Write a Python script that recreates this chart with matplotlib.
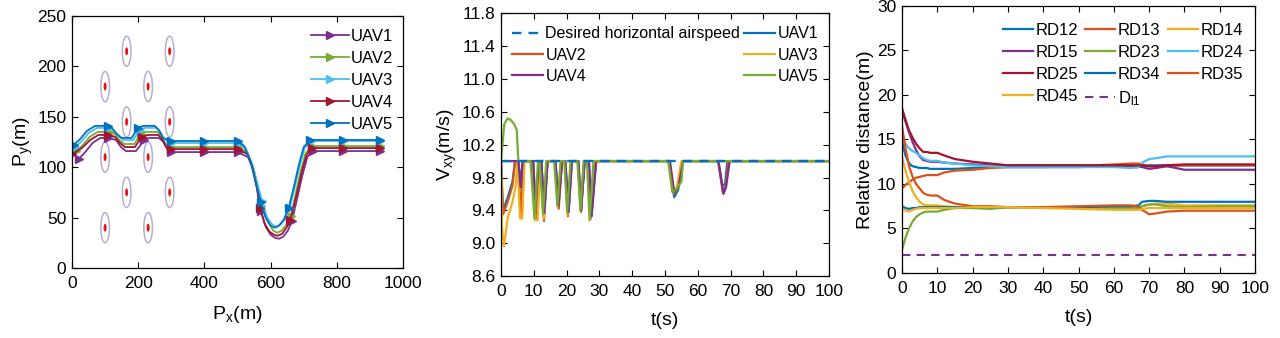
import numpy as np
import matplotlib
matplotlib.use("Agg")
import matplotlib.pyplot as plt
from matplotlib.patches import Ellipse

plt.rcParams['font.family'] = ['Liberation Sans', 'DejaVu Sans']
plt.rcParams['mathtext.fontset'] = 'custom'
plt.rcParams['mathtext.rm'] = 'Liberation Sans'
plt.rcParams['mathtext.it'] = 'Liberation Sans:italic'

# matlab default colours
C_BLUE = '#0072BD'
C_ORANGE = '#D95319'
C_YELLOW = '#EDB120'
C_PURPLE = '#7E2F8E'
C_GREEN = '#77AC30'
C_LBLUE = '#4DBEEE'
C_RED = '#A2142F'

# ---------------- panel 1: trajectories ----------------
obst_x = [100, 165, 230, 295, 165, 295, 100, 230, 165, 295, 100, 230]
obst_y = [180, 215, 180, 215, 145, 145, 110, 110, 75, 75, 40, 40]

px1 = [20, 40, 62, 85, 110, 133, 148, 163, 193, 205, 217, 232, 263, 276, 289, 300, 400, 500,
       532, 548, 560, 570, 585, 600, 613, 625, 638, 652, 665, 681, 696, 711, 727, 820, 930]
py1 = [108, 115, 124, 129, 129, 127, 120, 116, 116, 121, 127, 129, 129, 125, 117, 115, 115, 115,
       110, 97, 78, 57, 41, 33, 30, 29, 31, 37, 47, 70, 92, 110, 116, 116, 116]
mk1 = [20, 110, 217, 300, 400, 500, 570, 665, 727, 820, 930]

px2 = [12, 33, 53, 78, 112, 128, 143, 158, 188, 198, 208, 223, 258, 270, 283, 300, 400, 500,
       528, 548, 563, 572, 593, 608, 620, 633, 648, 662, 676, 691, 706, 725, 820, 930]
py2 = [116, 122, 130, 135, 135, 133, 127, 123, 123, 128, 133, 135, 135, 131, 123, 120, 120, 120,
       115, 99, 79, 62, 45, 37, 35, 37, 43, 52, 74, 96, 114, 121, 121, 121]
mk2 = [12, 112, 208, 300, 400, 500, 572, 662, 725, 820, 930]

px3 = [10, 30, 50, 75, 110, 125, 140, 155, 185, 195, 205, 220, 255, 267, 280, 300, 400, 500,
       525, 545, 560, 575, 590, 605, 617, 630, 645, 658, 673, 688, 703, 722, 820, 930]
py3 = [120, 126, 134, 139, 139, 137, 131, 127, 127, 132, 137, 139, 139, 135, 127, 124, 124, 124,
       119, 103, 84, 66, 50, 43, 41, 43, 49, 60, 80, 101, 119, 126, 126, 126]
mk3 = [10, 110, 205, 300, 400, 500, 575, 658, 722, 820, 930]

px4 = [0, 30, 55, 80, 108, 130, 145, 160, 190, 200, 212, 228, 260, 272, 285, 300, 400, 500,
       530, 545, 558, 568, 582, 597, 610, 622, 635, 648, 660, 678, 693, 708, 725, 820, 930]
py4 = [113, 119, 127, 132, 132, 130, 124, 120, 120, 125, 130, 132, 132, 128, 120, 118, 118, 118,
       113, 100, 80, 60, 44, 36, 33, 32, 34, 40, 48, 72, 94, 112, 119, 119, 119]
mk4 = [0, 108, 212, 300, 400, 500, 568, 660, 725, 820, 930]

px5 = [5, 25, 45, 70, 108, 120, 135, 150, 180, 190, 200, 215, 250, 262, 275, 300, 400, 500,
       520, 540, 555, 570, 585, 600, 612, 625, 640, 655, 670, 685, 700, 720, 820, 930]
py5 = [122, 128, 136, 141, 141, 139, 133, 129, 129, 134, 139, 141, 141, 137, 129, 126, 126, 126,
       121, 105, 85, 65, 50, 42, 40, 42, 48, 60, 80, 102, 120, 127, 127, 127]
mk5 = [5, 108, 200, 300, 400, 500, 570, 655, 720, 820, 930]

# ---------------- panel 2: horizontal airspeed ----------------
v_des = 10.0
t_v1 = [0, 0.6, 2, 3.5, 4.3, 5.3, 6.0, 6.6, 9.8, 10.5, 11.6, 12.3, 13.2, 14.2, 16.6, 17.5, 18.6,
        19.6, 20.6, 21.6, 23.6, 24.4, 25.5, 26.8, 27.6, 29.0, 51.2, 52.8, 54.0, 55.3,
        66.2, 67.5, 68.3, 69.0, 100]
v1 = [10.0, 9.4, 9.55, 9.75, 10.0, 10.0, 9.7, 10.0, 10.0, 9.45, 10.0, 10.0, 9.38, 10.0, 10.0, 9.46, 10.0,
      10.0, 9.38, 10.0, 10.0, 9.4, 10.0, 10.0, 9.33, 10.0, 10.0, 9.56, 9.65, 10.0,
      10.0, 9.7, 9.72, 10.0, 10.0]
t_v2 = [0, 0.6, 2, 3.5, 4.3, 5.2, 6.0, 6.8, 9.5, 10.6, 11.6, 12.1, 13.1, 14.1, 16.5, 17.6, 18.6,
        19.5, 20.4, 21.4, 23.4, 24.4, 25.4, 26.5, 27.4, 28.6, 51.2, 52.7, 54.0, 55.3,
        66.2, 67.6, 68.5, 69.3, 100]
v2 = [10.0, 9.35, 9.5, 9.7, 10.0, 10.0, 9.32, 10.0, 10.0, 9.3, 10.0, 10.0, 9.27, 10.0, 10.0, 9.42, 10.0,
      10.0, 9.33, 10.0, 10.0, 9.38, 10.0, 10.0, 9.3, 10.0, 10.0, 9.6, 9.68, 10.0,
      10.0, 9.62, 9.7, 10.0, 10.0]
t_v3 = [0, 0.3, 0.9, 2, 3.5, 4.5, 5.0, 5.8, 6.5, 7.2, 9.6, 10.4, 11.2, 12.0, 13.0, 14.0, 16.5, 17.3,
        18.3, 19.5, 20.3, 21.3, 23.5, 24.3, 25.3, 26.5, 27.2, 28.5, 51.0, 52.2, 53.5, 55.0, 100]
v3 = [10.0, 9.2, 8.96, 9.3, 9.5, 9.7, 10.0, 9.3, 9.3, 10.0, 10.0, 9.28, 9.28, 10.0, 9.3, 10.0, 10.0, 9.45,
      10.0, 10.0, 9.35, 10.0, 10.0, 9.4, 10.0, 10.0, 9.3, 10.0, 10.0, 9.63, 9.66, 10.0, 10.0]
t_v4 = [0, 5.3, 6.0, 6.6, 9.8, 10.5, 11.6, 12.3, 13.2, 14.2, 16.6, 17.5, 18.6, 19.6, 20.6, 21.6,
        23.6, 24.4, 25.5, 26.8, 27.6, 29.0, 51.5, 52.8, 54.2, 55.5, 66.3, 67.8, 68.6, 69.7, 100]
v4 = [10.0, 10.0, 9.68, 10.0, 10.0, 9.45, 10.0, 10.0, 9.37, 10.0, 10.0, 9.46, 10.0, 10.0, 9.38, 10.0,
      10.0, 9.4, 10.0, 10.0, 9.33, 10.0, 10.0, 9.62, 9.7, 10.0, 10.0, 9.6, 9.68, 10.0, 10.0]
t_v5 = [0, 1, 2, 3, 4, 4.8, 5.3, 9.0, 10.2, 11.3, 11.8, 12.8, 13.8, 16.2, 17.2, 18.2, 19.3, 20.2,
        21.2, 23.3, 24.2, 25.2, 26.2, 27.0, 28.2, 51.0, 52.3, 53.5, 55.0, 55.5, 100]
v5 = [10.0, 10.45, 10.52, 10.5, 10.45, 10.38, 10.0, 10.0, 9.3, 10.0, 10.0, 9.35, 10.0, 10.0, 9.45, 10.0,
      10.0, 9.37, 10.0, 10.0, 9.4, 10.0, 10.0, 9.28, 10.0, 10.0, 9.62, 9.66, 9.75, 10.0, 10.0]

# ---------------- panel 3: relative distances ----------------
t_rd = [0, 1, 2, 3, 4, 5, 6, 7, 8, 10, 12, 15, 20, 25, 30, 40, 50, 60, 65, 67, 68, 70, 72, 75, 80, 90, 100]
rd12 = [14.8, 13.2, 12.3, 12.0, 11.9, 11.8, 11.8, 11.8, 11.7, 11.7, 11.7, 11.7, 11.8, 11.9, 11.9, 11.9,
        11.9, 12.0, 11.9, 11.9, 12.0, 12.1, 12.1, 12.1, 12.1, 12.1, 12.1]
rd13 = [9.5, 9.9, 10.2, 10.5, 10.7, 10.8, 10.9, 11.0, 11.0, 11.0, 11.3, 11.5, 11.6, 11.8, 11.9, 11.9,
        12.0, 12.2, 12.3, 12.3, 12.2, 12.0, 12.0, 12.0, 12.1, 12.1, 12.1]
rd14 = [13.0, 11.5, 10.2, 9.2, 8.5, 8.0, 7.7, 7.6, 7.6, 7.6, 7.5, 7.4, 7.4, 7.4, 7.4, 7.4,
        7.3, 7.3, 7.3, 7.3, 7.5, 7.7, 7.8, 7.8, 7.6, 7.6, 7.6]
rd15 = [18.3, 17.0, 15.8, 14.7, 13.8, 13.1, 12.7, 12.6, 12.5, 12.5, 12.4, 12.3, 12.2, 12.1, 12.1, 12.1,
        12.1, 12.0, 12.0, 12.0, 11.9, 11.7, 11.8, 12.0, 11.6, 11.6, 11.6]
rd23 = [2.6, 4.0, 5.0, 5.8, 6.3, 6.6, 6.8, 6.9, 6.9, 6.9, 7.1, 7.3, 7.3, 7.2, 7.4, 7.4,
        7.4, 7.3, 7.3, 7.3, 7.5, 7.7, 7.7, 7.5, 7.4, 7.5, 7.5]
rd24 = [15.2, 14.5, 14.0, 13.7, 13.5, 13.2, 12.9, 12.7, 12.6, 12.6, 12.4, 12.3, 12.1, 12.0, 11.9, 11.9,
        11.9, 11.9, 11.8, 11.9, 12.4, 12.8, 12.9, 13.1, 13.1, 13.1, 13.1]
rd25 = [18.5, 17.2, 16.0, 15.2, 14.5, 14.0, 13.6, 13.6, 13.5, 13.5, 13.2, 12.8, 12.5, 12.3, 12.1, 12.1,
        12.1, 12.1, 12.1, 12.1, 12.1, 12.0, 12.0, 12.1, 12.2, 12.2, 12.2]
rd34 = [7.5, 7.3, 7.2, 7.3, 7.3, 7.4, 7.4, 7.4, 7.4, 7.4, 7.4, 7.4, 7.4, 7.4, 7.4, 7.4,
        7.4, 7.5, 7.5, 7.6, 8.0, 8.1, 8.1, 8.0, 8.0, 8.0, 8.0]
rd35 = [16.5, 14.0, 12.0, 10.8, 10.0, 9.5, 9.0, 8.8, 8.7, 8.7, 8.2, 7.8, 7.5, 7.5, 7.4, 7.4,
        7.5, 7.6, 7.6, 7.4, 7.1, 6.6, 6.7, 6.9, 7.0, 7.0, 7.0]
rd45 = [7.2, 7.0, 6.9, 7.1, 7.2, 7.3, 7.3, 7.3, 7.3, 7.3, 7.3, 7.3, 7.4, 7.4, 7.4, 7.3,
        7.2, 7.1, 7.1, 7.1, 7.2, 7.3, 7.3, 7.3, 7.3, 7.3, 7.3]
d_l1 = 2.0

TICK_FS = 12.5
LAB_FS = 14
LEG_FS = 12
LW = 1.6


def style_axes(ax):
    ax.tick_params(direction='in', top=True, right=True, labelsize=TICK_FS, length=4, width=0.8)
    ax.tick_params(axis='x', pad=6)
    ax.tick_params(axis='y', pad=4)
    for s in ax.spines.values():
        s.set_linewidth(0.9)


fig = plt.figure(figsize=(12.8, 3.38), dpi=100)

# panel 1
ax1 = fig.add_axes([0.05625, 0.2071, 0.2586, 0.7456])
for ox, oy in zip(obst_x, obst_y):
    ax1.add_patch(Ellipse((ox, oy), 26, 30, fill=False, ec='#b4b0cc', lw=1.1))
    ax1.add_patch(Ellipse((ox, oy), 9, 8, fc='#ee1111', ec='none'))

trajs = [(px1, py1, mk1, C_PURPLE, 'UAV1'), (px2, py2, mk2, C_GREEN, 'UAV2'),
         (px3, py3, mk3, C_LBLUE, 'UAV3'), (px4, py4, mk4, C_RED, 'UAV4'),
         (px5, py5, mk5, C_BLUE, 'UAV5')]
for xs, ys, mk, c, lab in trajs:
    idx = [xs.index(m) for m in mk]
    ax1.plot(xs, ys, color=c, lw=1.3, marker='>', ms=5.5, markevery=idx, label=lab)
ax1.set_xlim(0, 1000)
ax1.set_ylim(0, 250)
ax1.set_xticks([0, 200, 400, 600, 800, 1000])
ax1.set_yticks([0, 50, 100, 150, 200, 250])
style_axes(ax1)
ax1.set_xlabel('P$_\\mathrm{x}$(m)', fontsize=LAB_FS, labelpad=9)
ax1.set_ylabel('P$_\\mathrm{y}$(m)', fontsize=LAB_FS, labelpad=2)
ax1.legend(loc='upper right', bbox_to_anchor=(0.99, 0.975), frameon=False, fontsize=LEG_FS,
           handlelength=2.3, handletextpad=0.1, labelspacing=0.42, borderaxespad=0)

# panel 2
ax2 = fig.add_axes([0.3914, 0.1834, 0.2563, 0.7772])
h1, = ax2.plot(t_v1, v1, color=C_BLUE, lw=LW, label='UAV1')
h2, = ax2.plot(t_v2, v2, color=C_ORANGE, lw=LW, label='UAV2')
h3, = ax2.plot(t_v3, v3, color=C_YELLOW, lw=LW, label='UAV3')
h4, = ax2.plot(t_v4, v4, color=C_PURPLE, lw=LW, label='UAV4')
h5, = ax2.plot(t_v5, v5, color=C_GREEN, lw=LW, label='UAV5')
hd, = ax2.plot([0, 100], [v_des, v_des], color=C_BLUE, lw=1.7, ls=(0, (4, 3)),
               label='Desired horizontal airspeed')
ax2.set_xlim(0, 100)
ax2.set_ylim(8.6, 11.8)
ax2.set_xticks(np.arange(0, 101, 10))
ax2.set_yticks(np.arange(8.6, 11.81, 0.4))
ax2.set_yticklabels(['%.1f' % v for v in np.arange(8.6, 11.81, 0.4)])
style_axes(ax2)
ax2.set_xlabel('t(s)', fontsize=LAB_FS, labelpad=9)
ax2.set_ylabel('V$_\\mathrm{xy}$(m/s)', fontsize=LAB_FS, labelpad=2)
ax2.legend([hd, h2, h4, h1, h3, h5], [hd.get_label(), 'UAV2', 'UAV4', 'UAV1', 'UAV3', 'UAV5'],
           ncol=2, loc='upper left', bbox_to_anchor=(0.015, 0.975), frameon=False, fontsize=11.5,
           handlelength=1.95, handletextpad=0.12, labelspacing=0.4, columnspacing=0.25,
           borderaxespad=0)

# panel 3
ax3 = fig.add_axes([0.7047, 0.1923, 0.2758, 0.790])
rds = [(rd12, C_BLUE, 'RD12'), (rd13, C_ORANGE, 'RD13'), (rd14, C_YELLOW, 'RD14'),
       (rd15, C_PURPLE, 'RD15'), (rd23, C_GREEN, 'RD23'), (rd24, C_LBLUE, 'RD24'),
       (rd25, C_RED, 'RD25'), (rd34, C_BLUE, 'RD34'), (rd35, C_ORANGE, 'RD35'),
       (rd45, C_YELLOW, 'RD45')]
hs = {}
for ys, c, lab in rds:
    hs[lab], = ax3.plot(t_rd, ys, color=c, lw=LW, label=lab)
hs['D'], = ax3.plot([0, 100], [d_l1, d_l1], color=C_PURPLE, lw=1.5, ls=(0, (4, 3)),
                    label='D$_\\mathrm{l1}$')
ax3.set_xlim(0, 100)
ax3.set_ylim(0, 30)
ax3.set_xticks(np.arange(0, 101, 10))
ax3.set_yticks(np.arange(0, 31, 5))
style_axes(ax3)
ax3.set_xlabel('t(s)', fontsize=LAB_FS, labelpad=9)
ax3.set_ylabel('Relative distance(m)', fontsize=LAB_FS, labelpad=2)
order = ['RD12', 'RD15', 'RD25', 'RD45', 'RD13', 'RD23', 'RD34', 'D', 'RD14', 'RD24', 'RD35']
ax3.legend([hs[k] for k in order], [hs[k].get_label() for k in order], ncol=3,
           loc='upper right', bbox_to_anchor=(0.985, 0.96), frameon=False, fontsize=LEG_FS,
           handlelength=1.8, handletextpad=0.15, labelspacing=0.42, columnspacing=0.45,
           borderaxespad=0)

fig.savefig('out.png', dpi=100)
